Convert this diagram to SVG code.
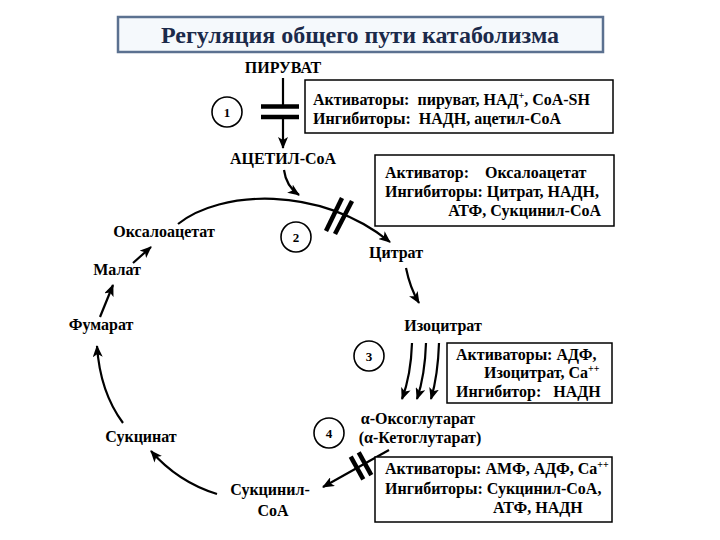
<svg xmlns="http://www.w3.org/2000/svg" width="720" height="540" viewBox="0 0 720 540">
<style>
text{font-family:'Liberation Serif' !important;font-weight:bold;}
.lbl{font-size:16px;text-anchor:middle;}
.box{fill:#fff;stroke:#000;stroke-width:1.5;}
.bt{font-size:16px;}
.num{font-size:13px;text-anchor:middle;}
.circ{fill:#fff;stroke:#000;stroke-width:1.6;}
.ln{fill:none;stroke:#000;stroke-width:2.2;}
.bar{stroke:#000;stroke-width:4.5;fill:none;}
.arr{fill:none;stroke:#000;stroke-width:2.2;marker-end:url(#ah);}
.sup{font-size:10px;}
</style>
<defs>
<marker id="ah" viewBox="0 0 12 10" refX="11" refY="5" markerWidth="12" markerHeight="10" markerUnits="userSpaceOnUse" orient="auto">
<path d="M0,0 L12,5 L0,10 L3,5 z" fill="#000"/>
</marker>
</defs>
<rect width="720" height="540" fill="#fff"/>
<g id="title">
<rect x="118" y="17" width="485" height="35" fill="#f5f9fc" stroke="#5b7190" stroke-width="2.5"/>
<text x="360" y="43" style="font-family:'Liberation Serif' !important" font-family="Liberation Serif" font-size="24" font-weight="bold" fill="#1b2a4a" text-anchor="middle">Регуляция общего пути катаболизма</text>
</g>
<g id="connectors">
<line class="ln" x1="283" y1="78" x2="283" y2="106"/>
<line class="bar" x1="261" y1="106.5" x2="299" y2="106.5"/>
<line class="bar" x1="261" y1="117" x2="299" y2="117"/>
<line class="arr" x1="283" y1="118" x2="283" y2="148"/>
<path class="arr" d="M284,170 Q286,186 299,195"/>
<path class="arr" d="M178,224 C220,190 320,185 390,242"/>
<line class="bar" x1="326" y1="231" x2="342" y2="198"/>
<line class="bar" x1="335" y1="234" x2="352" y2="201"/>
<path class="arr" d="M406,268 Q410,288 419,303"/>
<path class="arr" d="M412,343 Q411,375 402,399"/>
<path class="arr" d="M426,343 Q425,375 417,399"/>
<path class="arr" d="M439,343 Q438,375 431,399"/>
<line class="arr" x1="389" y1="450" x2="323" y2="487"/>
<line class="bar" x1="350.7" y1="456.6" x2="363.3" y2="479.4"/>
<line class="bar" x1="358.7" y1="452.4" x2="371.3" y2="475.2"/>
<path class="arr" d="M217,494 Q178,482 151,451"/>
<path class="arr" d="M123,423 Q100,392 97,346"/>
<line class="arr" x1="100" y1="317" x2="113" y2="285"/>
<line class="arr" x1="133" y1="263" x2="151" y2="247"/>
</g>
<g id="piruvat"><text class="lbl" style="font-family:'Liberation Serif' !important" x="283" y="73">ПИРУВАТ</text></g>
<g id="acetyl"><text class="lbl" style="font-family:'Liberation Serif' !important" x="283" y="164">АЦЕТИЛ-CoA</text></g>
<g id="oxaloacetate"><text class="lbl" style="font-family:'Liberation Serif' !important" x="164" y="237">Оксалоацетат</text></g>
<g id="malate"><text class="lbl" style="font-family:'Liberation Serif' !important" x="117" y="275">Малат</text></g>
<g id="fumarate"><text class="lbl" style="font-family:'Liberation Serif' !important" x="101" y="330">Фумарат</text></g>
<g id="succinate"><text class="lbl" style="font-family:'Liberation Serif' !important" x="141" y="442">Сукцинат</text></g>
<g id="succinylcoa"><text class="lbl" style="font-family:'Liberation Serif' !important" x="270" y="495">Сукцинил-</text><text class="lbl" style="font-family:'Liberation Serif' !important" x="273" y="516">CoA</text></g>
<g id="citrate"><text class="lbl" style="font-family:'Liberation Serif' !important" x="396" y="258">Цитрат</text></g>
<g id="isocitrate"><text class="lbl" style="font-family:'Liberation Serif' !important" x="443" y="331">Изоцитрат</text></g>
<g id="ketoglutarate"><text class="lbl" style="font-family:'Liberation Serif' !important" x="418" y="424">α-Оксоглутарат</text><text class="lbl" style="font-family:'Liberation Serif' !important" x="420" y="443">(α-Кетоглутарат)</text></g>
<g id="c1"><circle class="circ" cx="227" cy="112" r="15"/><text class="num" style="font-family:'Liberation Serif' !important" x="227" y="116.5">1</text></g>
<g id="c2"><circle class="circ" cx="296" cy="237" r="15"/><text class="num" style="font-family:'Liberation Serif' !important" x="296" y="241.5">2</text></g>
<g id="c3"><circle class="circ" cx="369" cy="356" r="15"/><text class="num" style="font-family:'Liberation Serif' !important" x="369" y="360.5">3</text></g>
<g id="c4"><circle class="circ" cx="329" cy="433" r="15"/><text class="num" style="font-family:'Liberation Serif' !important" x="329" y="437.5">4</text></g>
<g id="box1">
<rect class="box" x="305" y="80" width="308" height="53"/>
<text class="bt" style="font-family:'Liberation Serif' !important" x="313" y="105" xml:space="preserve">Активаторы:  пируват, НАД<tspan class="sup" dy="-6">+</tspan><tspan dy="6">, CoA-SH</tspan></text>
<text class="bt" style="font-family:'Liberation Serif' !important" x="313" y="124" xml:space="preserve">Ингибиторы:  НАДН, ацетил-CoA</text>
</g>
<g id="box2">
<rect class="box" x="375" y="155" width="239" height="71"/>
<text class="bt" style="font-family:'Liberation Serif' !important" x="385" y="178" xml:space="preserve">Активатор:    Оксалоацетат</text>
<text class="bt" style="font-family:'Liberation Serif' !important" x="385" y="197">Ингибиторы: Цитрат, НАДН,</text>
<text class="bt" style="font-family:'Liberation Serif' !important" x="601" y="216" text-anchor="end">АТФ, Сукцинил-CoA</text>
</g>
<g id="box3">
<rect class="box" x="447" y="343" width="165" height="60"/>
<text class="bt" style="font-family:'Liberation Serif' !important" x="456" y="360">Активаторы: АДФ,</text>
<text class="bt" style="font-family:'Liberation Serif' !important" x="484" y="378">Изоцитрат, Ca<tspan class="sup" dy="-6">++</tspan></text>
<text class="bt" style="font-family:'Liberation Serif' !important" x="456" y="397" xml:space="preserve">Ингибитор:   НАДН</text>
</g>
<g id="box4">
<rect class="box" x="375" y="457" width="237" height="65"/>
<text class="bt" style="font-family:'Liberation Serif' !important" x="385" y="474">Активаторы: АМФ, АДФ, Ca<tspan class="sup" dy="-6">++</tspan></text>
<text class="bt" style="font-family:'Liberation Serif' !important" x="385" y="494">Ингибиторы: Сукцинил-CoA,</text>
<text class="bt" style="font-family:'Liberation Serif' !important" x="493" y="513">АТФ, НАДН</text>
</g>
</svg>
